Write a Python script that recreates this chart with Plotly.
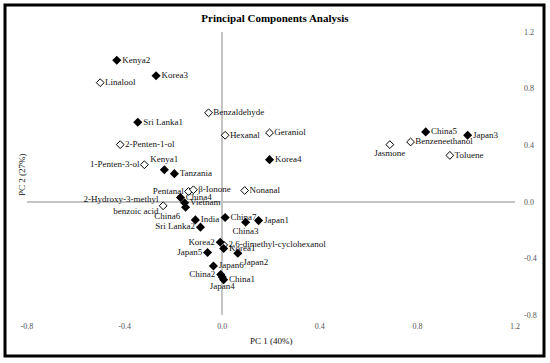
import plotly.graph_objects as go

# Tea samples (filled diamonds)
sample_names = ["Kenya2", "Korea3", "Sri Lanka1", "Kenya1", "Tanzania", "China4", "Vietnam",
                "China6", "India", "Sri Lanka2", "China7", "China3", "Japan1", "Korea4",
                "China5", "Japan3", "Korea2", "Korea1", "Japan2", "Japan5", "Japan6",
                "China2", "Japan4", "China1"]
sample_pc1 = [-0.432, -0.271, -0.346, -0.237, -0.196, -0.171, -0.154, -0.150, -0.110, -0.089,
              0.012, 0.096, 0.149, 0.194, 0.834, 1.006, -0.008, 0.006, 0.064, -0.060, -0.036,
              -0.006, 0.000, 0.006]
sample_pc2 = [1.000, 0.891, 0.562, 0.227, 0.199, 0.030, -0.007, -0.039, -0.128, -0.179,
              -0.111, -0.144, -0.133, 0.298, 0.494, 0.470, -0.286, -0.330, -0.364, -0.358,
              -0.454, -0.514, -0.532, -0.550]
sample_textpos = ["middle right", "middle right", "middle right", "top center", "middle right",
                  "middle right", "middle right", "bottom left", "middle right", "middle left",
                  "middle right", "bottom center", "middle right", "middle right", "middle right",
                  "middle right", "middle left", "middle right", "bottom right", "middle left",
                  "middle right", "middle left", "bottom center", "middle right"]

# Volatile compounds (open diamonds)
compound_names = ["Linalool", "Benzaldehyde", "Hexanal", "Geraniol", "2-Penten-1-ol",
                  "1-Penten-3-ol", "Pentanal", "β-Ionone", "Nonanal",
                  "2-Hydroxy-3-methyl<br>benzoic acid", "2,6-dimethyl-cyclohexanol",
                  "Jasmone", "Benzeneethanol", "Toluene"]
compound_pc1 = [-0.500, -0.056, 0.012, 0.194, -0.418, -0.319, -0.138, -0.118, 0.092, -0.242,
                0.006, 0.687, 0.772, 0.933]
compound_pc2 = [0.842, 0.629, 0.470, 0.487, 0.404, 0.262, 0.073, 0.085, 0.080, -0.028,
                -0.305, 0.404, 0.423, 0.328]
compound_textpos = ["middle right", "middle right", "middle right", "middle right", "middle right",
                    "middle left", "middle left", "middle right", "middle right", "middle left",
                    "middle right", "bottom center", "middle right", "middle right"]

tick_vals = [-0.8, -0.4, 0.0, 0.4, 0.8, 1.2]
tick_text = ["-0.8", "-0.4", "0.0", "0.4", "0.8", "1.2"]

FONT = "Liberation Serif, Times New Roman, serif"

fig = go.Figure()
fig.add_trace(go.Scatter(
    x=compound_pc1, y=compound_pc2, mode="markers+text", text=compound_names,
    textposition=compound_textpos,
    textfont=dict(family=FONT, size=9, color="#111"),
    marker=dict(symbol="diamond", size=6, color="white", line=dict(color="black", width=1)),
    cliponaxis=False, showlegend=False, hoverinfo="text"))
fig.add_trace(go.Scatter(
    x=sample_pc1, y=sample_pc2, mode="markers+text", text=sample_names,
    textposition=sample_textpos,
    textfont=dict(family=FONT, size=9, color="#111"),
    marker=dict(symbol="diamond", size=7, color="black", line=dict(color="black", width=0)),
    cliponaxis=False, showlegend=False, hoverinfo="text"))

W, H = 550, 363
ml, mr, mt, mb = 27, 35, 32, 48
pw, ph = W - ml - mr, H - mt - mb

fig.update_layout(
    width=W, height=H,
    margin=dict(l=ml, r=mr, t=mt, b=mb),
    paper_bgcolor="white", plot_bgcolor="white",
    font=dict(family=FONT, color="#222"),
    title=dict(text="<b>Principal Components Analysis</b>", x=0.5, xanchor="center",
               y=1 - 18 / H, yanchor="middle", font=dict(family=FONT, size=11, color="black")),
    xaxis=dict(range=[-0.8, 1.2], tickvals=tick_vals, ticktext=tick_text, showgrid=False,
               zeroline=True, zerolinecolor="#c4c4c4", zerolinewidth=1.5, showline=False,
               ticks="", ticklabelstandoff=5, tickfont=dict(family=FONT, size=8, color="#555")),
    yaxis=dict(range=[-0.8, 1.2], tickvals=tick_vals, ticktext=tick_text, showgrid=False,
               zeroline=True, zerolinecolor="#c4c4c4", zerolinewidth=1.5, showline=False,
               side="right", ticks="", ticklabelstandoff=8,
               tickfont=dict(family=FONT, size=8, color="#555")),
)

fig.add_annotation(text="PC 1 (40%)", xref="paper", yref="paper", x=(271 - ml) / pw,
                   y=(mt + ph - 341) / ph, showarrow=False, xanchor="center", yanchor="middle",
                   font=dict(family=FONT, size=9, color="#111"))
fig.add_annotation(text="PC 2 (27%)", xref="paper", yref="paper", x=(22 - ml) / pw,
                   y=(mt + ph - 175) / ph, showarrow=False, textangle=-90, xanchor="center",
                   yanchor="middle", font=dict(family=FONT, size=9, color="#111"))

# outer chart frame
fig.add_shape(type="rect", xref="paper", yref="paper",
              x0=(5 - ml) / pw, x1=(544 - ml) / pw,
              y0=(mt + ph - 356) / ph, y1=(mt + ph - 5) / ph,
              line=dict(color="black", width=3), fillcolor="rgba(0,0,0,0)", layer="below")

fig.write_html("out.html", config={"displayModeBar": False},
               post_script="document.body.style.margin='0';")
